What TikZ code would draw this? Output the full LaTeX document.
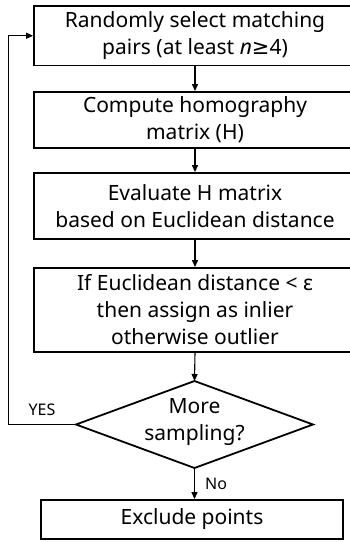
\documentclass[tikz,border=0pt]{standalone}
\usepackage{fontspec}
\setmainfont{Noto Sans}
\newfontfamily\symfont{DejaVu Sans}
\usetikzlibrary{arrows.meta}
\tikzset{
  x=1pt,y=1pt,
  stepbox/.style={draw, line width=1.8pt, rectangle, inner sep=0pt, align=center,
    font=\fontsize{21}{27}\selectfont},
  decide/.style={inner sep=0pt, align=center, font=\fontsize{21}{27}\selectfont},
  dshape/.style={line width=1.8pt, line join=miter},
  flow/.style={line width=1.1pt, -{Triangle[length=7pt,width=6pt]}},
  back/.style={line width=0.8pt, -{Triangle[length=7pt,width=6pt]}},
  lbl/.style={inner sep=0pt, font=\fontsize{16}{18}\selectfont}
}
\begin{document}
\begin{tikzpicture}
\useasboundingbox (0,0) rectangle (349,-542);
\node[stepbox, minimum width=322pt, minimum height=59.5pt] (b1) at (195,-35.75)
  {Randomly select matching\\pairs (at least \textit{n}{\symfont ≥}4)};
\node[stepbox, minimum width=322pt, minimum height=56pt] (b2) at (195,-120)
  {Compute homography\\matrix (H)};
\node[stepbox, minimum width=322pt, minimum height=66pt] (b3) at (195,-206)
  {Evaluate H matrix\\based on Euclidean distance};
\node[stepbox, minimum width=322pt, minimum height=84pt] (b4) at (195,-310)
  {If Euclidean distance < ε\\then assign as inlier\\otherwise outlier};
\coordinate (dt) at (194.5,-381);
\coordinate (db) at (194.5,-468);
\coordinate (dl) at (76,-424.5);
\coordinate (dr) at (313,-424.5);
\draw[dshape] (dt) -- (dr) -- (db) -- (dl) -- cycle;
\node[decide] (d) at (194.5,-422) {More\\sampling?};
\node[stepbox, minimum width=302pt, minimum height=39pt] (b5) at (192,-519.5)
  {Exclude points};
\coordinate (fb) at (8,-424.5);
\draw[flow] (b1.south -| 195,0) -- (b2.north -| 195,0);
\draw[flow] (b2.south -| 195,0) -- (b3.north -| 195,0);
\draw[flow] (b3.south -| 195,0) -- (b4.north -| 195,0);
\draw[flow] (b4.south -| 195,0) -- (dt);
\draw[flow] (db) -- (db |- b5.north);
\draw[back] (dl) -- (fb) |- (b1.west);
\node[lbl] (yes) at (42,-410) {YES};
\node[lbl, anchor=west] (no) at (205,-484) {No};
\end{tikzpicture}
\end{document}
